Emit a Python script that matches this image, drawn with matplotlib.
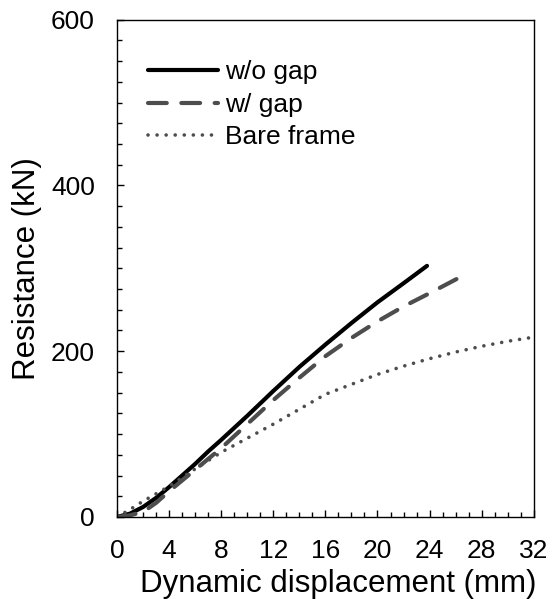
import matplotlib
matplotlib.use("Agg")
import matplotlib.pyplot as plt
from matplotlib.ticker import MultipleLocator

plt.rcParams['font.family'] = ['Liberation Sans', 'DejaVu Sans']

x_nogap = [0, 1, 2, 3, 4, 5, 6, 7, 8, 10, 12, 14, 16, 18, 20, 22, 23.8]
y_nogap = [0, 4, 12, 23, 36, 50, 64, 79, 93, 122, 152, 181, 208, 234, 259, 282, 303]

x_gap = [0, 1, 2, 3, 4, 6, 8, 10, 12, 14, 16, 18, 20, 22, 24, 26.3]
y_gap = [0, 2, 6, 17, 31, 57, 83, 112, 141, 168, 194, 216, 236, 254, 270, 289]

x_bare = [0, 1, 2, 3, 4, 6, 8, 10, 12, 14, 16, 18, 20, 22, 24, 26, 28, 30, 32]
y_bare = [0, 9, 19, 28, 37, 58, 78, 95, 112, 130, 148, 160, 172, 182, 191, 199, 206, 212, 217]

labels = ['w/o gap', 'w/ gap', 'Bare frame']
x_ticks = [0, 4, 8, 12, 16, 20, 24, 28, 32]
y_ticks = [0, 200, 400, 600]

fig = plt.figure(figsize=(5.52, 5.99), dpi=100)
ax = fig.add_axes([0.212, 0.137, 0.755, 0.830])

grey = '#4d4d4d'
ax.plot(x_nogap, y_nogap, color='black', lw=3, solid_capstyle='round', label=labels[0])
ax.plot(x_gap, y_gap, color=grey, lw=3, dashes=(4.5, 3.5), dash_capstyle='round', label=labels[1])
ax.plot(x_bare, y_bare, color=grey, lw=2.6, dashes=(0.01, 2.5), dash_capstyle='round', label=labels[2])

ax.set_xlim(0, 32)
ax.set_ylim(0, 600)
ax.set_xticks(x_ticks)
ax.set_yticks(y_ticks)
ax.xaxis.set_minor_locator(MultipleLocator(1))
ax.yaxis.set_minor_locator(MultipleLocator(25))
ax.tick_params(which='both', direction='in', width=1, labelsize=19, top=False, right=False)
ax.tick_params(which='major', length=5)
ax.tick_params(which='minor', length=3.6)
ax.tick_params(axis='x', pad=16)
ax.tick_params(axis='y', pad=16)
for s in ax.spines.values():
    s.set_linewidth(1)

ax.set_xlabel('Dynamic displacement (mm)', fontsize=22.5)
ax.xaxis.set_label_coords(0.532, -0.104)
ax.set_ylabel('Resistance (kN)', fontsize=22.5, labelpad=6)

ax.legend(loc='upper left', bbox_to_anchor=(0.075, 0.919), frameon=False, fontsize=19,
          borderpad=0, borderaxespad=0, handlelength=2.65, handletextpad=0.27, labelspacing=0.33)

fig.savefig('out.png', dpi=100)
